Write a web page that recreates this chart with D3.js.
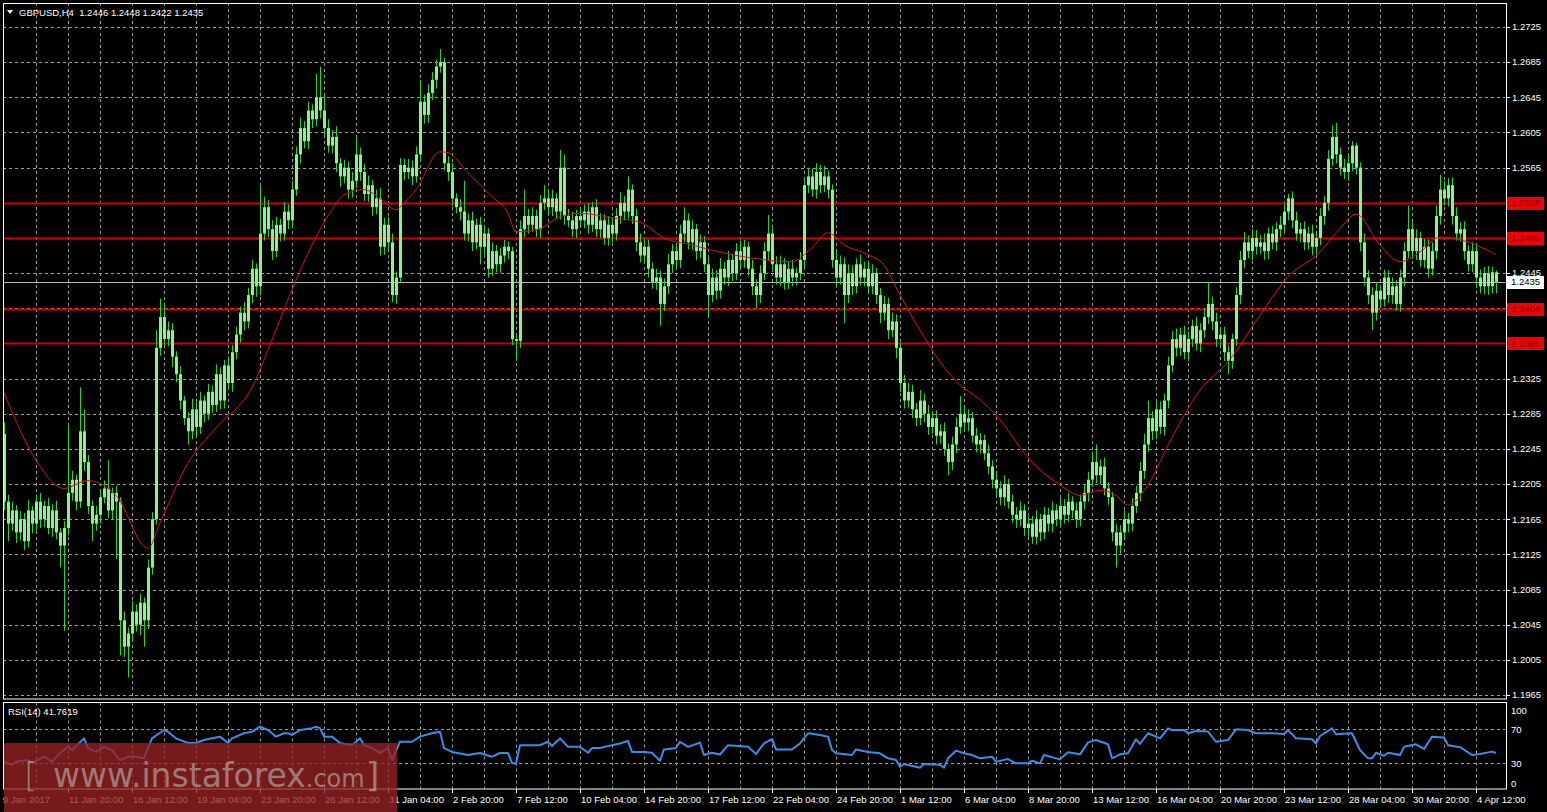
<!DOCTYPE html>
<html><head><meta charset="utf-8">
<script src="https://cdn.jsdelivr.net/npm/d3@7"></script>
<style>html,body{margin:0;padding:0;background:#000;overflow:hidden}</style>
</head><body><svg id="c" width="1547" height="812"></svg>
<script>
// ---------------- DATA ----------------
const titleText = "GBPUSD,H4  1.2446 1.2448 1.2422 1.2435";
const rsiTitle = "RSI(14) 41.7619";
const firstOpen = 1.2262;
// H4 closes, one per bar (open = previous close)
const closes = [
1.2185,1.2160,1.2175,1.2150,1.2165,1.2140,1.2175,1.2160,1.2185,1.2165,
1.2180,1.2155,1.2175,1.2150,1.2135,1.2155,1.2195,1.2210,1.2185,1.2265,
1.2230,1.2180,1.2160,1.2170,1.2190,1.2200,1.2175,1.2195,1.2185,1.2050,
1.2020,1.2035,1.2060,1.2045,1.2070,1.2050,1.2110,1.2165,1.2360,1.2395,
1.2370,1.2380,1.2350,1.2330,1.2300,1.2280,1.2265,1.2290,1.2270,1.2300,
1.2285,1.2310,1.2295,1.2330,1.2300,1.2340,1.2320,1.2355,1.2375,1.2400,
1.2390,1.2420,1.2450,1.2430,1.2490,1.2520,1.2495,1.2470,1.2500,1.2490,
1.2515,1.2505,1.2540,1.2580,1.2610,1.2595,1.2630,1.2620,1.2645,1.2630,
1.2610,1.2590,1.2600,1.2570,1.2555,1.2565,1.2540,1.2550,1.2580,1.2560,
1.2535,1.2545,1.2520,1.2530,1.2475,1.2500,1.2480,1.2420,1.2440,1.2568,
1.2560,1.2565,1.2555,1.2580,1.2640,1.2625,1.2650,1.2665,1.2680,1.2685,
1.2570,1.2560,1.2530,1.2520,1.2515,1.2490,1.2505,1.2480,1.2500,1.2475,
1.2490,1.2450,1.2470,1.2455,1.2465,1.2475,1.2470,1.2370,1.2368,1.2495,
1.2510,1.2500,1.2510,1.2495,1.2525,1.2530,1.2520,1.2530,1.2515,1.2565,
1.2510,1.2505,1.2495,1.2510,1.2505,1.2515,1.2500,1.2520,1.2495,1.2505,
1.2485,1.2500,1.2490,1.2510,1.2525,1.2515,1.2540,1.2510,1.2480,1.2465,
1.2475,1.2450,1.2435,1.2440,1.2410,1.2430,1.2455,1.2470,1.2460,1.2490,
1.2505,1.2480,1.2495,1.2470,1.2480,1.2455,1.2420,1.2440,1.2425,1.2450,
1.2440,1.2460,1.2445,1.2470,1.2460,1.2475,1.2450,1.2430,1.2420,1.2445,
1.2470,1.2490,1.2455,1.2440,1.2455,1.2435,1.2450,1.2440,1.2445,1.2460,
1.2545,1.2555,1.2540,1.2560,1.2545,1.2555,1.2540,1.2460,1.2440,1.2455,
1.2420,1.2445,1.2430,1.2455,1.2440,1.2450,1.2430,1.2445,1.2420,1.2400,
1.2410,1.2380,1.2390,1.2360,1.2320,1.2300,1.2310,1.2290,1.2280,1.2300,
1.2285,1.2270,1.2280,1.2260,1.2265,1.2245,1.2230,1.2250,1.2270,1.2285,
1.2275,1.2280,1.2260,1.2250,1.2255,1.2240,1.2225,1.2210,1.2200,1.2190,
1.2205,1.2185,1.2170,1.2165,1.2175,1.2155,1.2160,1.2145,1.2165,1.2150,
1.2170,1.2160,1.2175,1.2165,1.2180,1.2170,1.2185,1.2175,1.2165,1.2185,
1.2195,1.2210,1.2230,1.2215,1.2225,1.2200,1.2190,1.2150,1.2135,1.2150,
1.2165,1.2160,1.2180,1.2195,1.2220,1.2250,1.2280,1.2265,1.2290,1.2270,
1.2300,1.2340,1.2370,1.2360,1.2375,1.2355,1.2370,1.2385,1.2365,1.2380,
1.2395,1.2410,1.2390,1.2370,1.2375,1.2355,1.2345,1.2370,1.2420,1.2460,
1.2480,1.2470,1.2485,1.2475,1.2480,1.2470,1.2490,1.2480,1.2495,1.2500,
1.2515,1.2530,1.2505,1.2490,1.2495,1.2480,1.2490,1.2475,1.2485,1.2510,
1.2525,1.2575,1.2600,1.2580,1.2565,1.2560,1.2570,1.2590,1.2565,1.2480,
1.2440,1.2420,1.2400,1.2425,1.2415,1.2440,1.2420,1.2430,1.2410,1.2440,
1.2470,1.2495,1.2470,1.2485,1.2460,1.2475,1.2450,1.2470,1.2510,1.2540,
1.2530,1.2545,1.2510,1.2490,1.2495,1.2470,1.2455,1.2470,1.2440,1.2430,
1.2445,1.2430,1.2446,1.2435];
// upper wick above body top, in pips
const wickHi = [
13,8,10,6,9,7,12,5,8,10, 6,9,7,11,5,8,77,10,6,50, 25,8,6,10,7,9,32,6,8,5,
10,7,12,8,10,6,9,8,20,21, 15,10,8,6,9,5,7,12,8,10, 6,9,7,11,8,6,10,8,9,7,
12,8,10,6,55,12,8,10,9,7, 11,8,10,9,12,8,10,7,27,35, 20,10,8,12,6,9,7,10,20,8,
9,11,6,10,12,8,9,10,7,8, 7,10,8,9,25,8,10,9,8,15, 5,8,10,6,9,35,8,10,7,9,
8,6,10,7,9,8,6,5,4,10, 30,8,10,7,9,15,8,10,6,20, 15,8,10,7,9,8,10,6,9,8,
7,10,8,9,12,8,15,6,8,10, 9,8,7,10,8,9,12,8,7,10, 15,8,10,6,9,7,8,10,9,12,
8,10,7,9,12,8,6,10,8,9, 10,21,8,9,10,7,8,10,6,9, 8,10,9,10,8,12,7,6,9,10,
8,10,9,7,11,8,9,10,6,8, 9,7,10,8,6,9,10,8,7,12, 8,10,7,9,8,10,6,9,11,20,
8,10,7,9,8,6,10,7,9,8, 10,6,8,9,10,7,8,9,10,6, 9,8,10,7,9,8,10,6,9,8,
10,9,12,20,8,10,7,6,9,8, 10,7,9,8,10,12,20,8,10,9, 8,10,9,12,8,10,9,7,10,8,
9,25,8,10,7,9,8,6,9,10, 12,8,10,9,8,10,7,9,8,10, 9,5,8,10,7,9,8,10,6,9,
8,10,13,16,8,10,9,5,3,6, 10,8,9,10,7,9,8,10,7,9, 10,27,8,10,7,9,8,10,12,17,
10,8,9,10,8,9,7,10,8,9, 7,8,6,2];
// lower wick below body bottom, in pips
const wickLo = [
10,20,8,12,9,10,7,11,8,10, 9,7,10,8,25,97,8,9,10,7, 10,9,20,8,10,7,9,10,65,40,
12,35,10,8,12,30,10,8,6,9, 10,8,12,9,10,8,15,9,10,8, 10,7,9,8,10,9,7,10,8,9,
10,8,9,12,10,8,9,10,7,9, 8,10,9,7,10,8,9,10,8,9, 10,8,9,10,12,8,10,9,8,10,
8,9,10,8,10,9,8,8,10,6, 9,8,10,7,8,10,9,8,10,7, 8,10,9,7,10,8,9,10,8,20,
9,10,8,9,10,8,9,7,23,8, 9,10,8,9,10,8,9,10,8,9, 10,8,9,10,8,9,10,8,9,10,
8,9,10,8,9,10,8,9,10,8, 9,10,8,9,25,8,9,10,8,9, 10,8,9,10,8,9,25,8,10,9,
8,10,9,8,10,9,8,10,15,9, 8,10,9,8,10,9,8,10,9,8, 10,9,8,10,9,8,10,9,10,8,
32,9,10,8,9,10,8,9,10,12, 9,10,8,12,10,9,8,10,9,8, 10,9,8,10,9,8,15,9,10,8,
9,10,8,9,10,8,9,10,8,9, 10,8,9,10,8,9,10,8,9,10, 8,9,10,8,9,10,8,9,10,8,
9,10,8,9,10,8,9,10,25,9, 8,10,9,8,10,9,8,10,9,8, 10,9,8,10,9,8,10,9,8,10,
9,8,10,9,8,10,15,9,8,10, 9,8,10,9,8,10,9,8,10,9, 8,10,9,8,10,9,8,10,9,8,
10,9,8,10,9,8,10,9,8,10, 9,10,20,9,10,8,9,10,8,9, 10,8,9,10,8,9,10,8,9,10,
8,9,10,8,9,10,8,9,10,8, 9,10,8,13];
// moving average (bar index, value)
const maBar = [0,8,15,21,28,36,39,46,53,62,67,72,77,82,85,90,94,98,100,103,109,111,116,122,126,128,133,139,144,152,159,165,172,179,187,197,202,206,210,216,220,224,229,234,239,244,249,256,264,269,274,278,281,286,291,299,306,314,321,329,334,338,344,349,354,359,364,373];
const maVal = [1.2309,1.2232,1.2200,1.2209,1.2192,1.2132,1.2161,1.2229,1.2269,1.2315,1.2369,1.2426,1.2477,1.2517,1.2534,1.2540,1.2530,1.2517,1.2525,1.2540,1.2583,1.2582,1.2559,1.2532,1.2513,1.2492,1.2494,1.2509,1.2513,1.2508,1.2503,1.2485,1.2477,1.2469,1.2462,1.2458,1.2474,1.2491,1.2477,1.2466,1.2454,1.2420,1.2380,1.2344,1.2318,1.2301,1.2278,1.2235,1.2204,1.2192,1.2198,1.2192,1.2181,1.2204,1.2249,1.2312,1.2344,1.2397,1.2441,1.2469,1.2496,1.2512,1.2477,1.2458,1.2469,1.2486,1.2483,1.2466];
// RSI(14) (bar index, value)
const rsiPoints = [[0,31.5],[2,27.6],[3,31.5],[6,33.5],[7,30],[10,37.4],[12,31.5],[14,41.8],[16,49],[17,45],[20,59],[21,47.6],[23,43],[25,49],[27,45],[29,33.5],[31,37.4],[33,37.4],[35,35.6],[37,59],[40,68.8],[41,66.8],[43,59],[46,53.5],[48,53.5],[50,57],[52,59],[54,61],[56,53.5],[57,59],[60,65],[62,66.8],[64,72.7],[66,68.8],[68,61],[70,65],[71,65],[72,63],[74,68.8],[77,71],[78,72.7],[79,71],[80,61],[82,61],[84,53.5],[87,51],[89,59],[90,51],[92,47.6],[94,41.8],[96,47.6],[97,33.5],[99,55],[102,55],[104,61],[107,65],[109,66.8],[110,47.6],[112,43],[116,39.4],[119,41.8],[122,37.4],[124,41.8],[126,41.8],[127,30],[128,29],[129,51],[134,51],[136,55],[137,50],[139,59],[141,49],[144,49],[146,42],[147,47.6],[149,47.6],[152,51],[154,53],[156,56],[157,43],[160,43],[162,42],[164,32.7],[165,46],[168,47.6],[169,55],[171,49],[174,54],[175,39.4],[177,42],[179,40],[181,51],[186,49],[188,40.6],[190,53],[192,58],[193,46],[197,46],[199,53],[201,65],[204,63],[206,61],[207,45.3],[208,41.4],[212,39.4],[213,46],[216,43],[219,41.4],[221,35.5],[223,33.5],[224,25.6],[225,28.8],[229,24.5],[230,28.8],[234,27.8],[235,24.5],[236,35.5],[238,44.5],[240,41.4],[242,39.4],[244,35.5],[247,37.4],[248,31.5],[249,32.5],[251,34.7],[253,29.6],[256,29.6],[257,32.7],[259,29.6],[260,39.4],[264,34.3],[266,42.6],[269,40.2],[271,54.3],[273,57],[276,52],[277,35.5],[279,40.2],[281,41.4],[283,57.9],[284,52.4],[286,65],[289,59],[291,70.8],[292,68.8],[295,68.8],[296,65],[298,67.6],[301,67],[303,55],[306,57],[308,69.6],[311,68.8],[313,65],[317,65],[320,64],[321,68.8],[323,59],[327,58],[328,53],[329,61.8],[332,70.8],[333,63.8],[337,65],[339,45.3],[341,35.5],[342,35.5],[343,42],[345,38.6],[346,42],[349,39.4],[350,49],[353,52],[355,46.5],[357,61],[360,60],[361,51],[364,48.6],[367,39.4],[369,40.6],[372,43.4],[373,41.76]];
const priceTicks = [1.2725,1.2685,1.2645,1.2605,1.2565,1.2525,1.2485,1.2445,1.2405,1.2365,1.2325,1.2285,1.2245,1.2205,1.2165,1.2125,1.2085,1.2045,1.2005,1.1965];
const levels = [1.2525,1.2485,1.2404,1.2365];
const lastPrice = 1.2435;
const rsiTicks = [100,70,30,0];
const rsiLevels = [70,30];
const timeLabels = ["9 Jan 2017","11 Jan 20:00","16 Jan 12:00","19 Jan 04:00","23 Jan 20:00","26 Jan 12:00","31 Jan 04:00","2 Feb 20:00","7 Feb 12:00","10 Feb 04:00","14 Feb 20:00","17 Feb 12:00","22 Feb 04:00","24 Feb 20:00","1 Mar 12:00","6 Mar 04:00","8 Mar 20:00","13 Mar 12:00","16 Mar 04:00","20 Mar 20:00","23 Mar 12:00","28 Mar 04:00","30 Mar 20:00","4 Apr 12:00"];
const timeLabelBars = [0,16,32,48,64,80,96,112,128,144,160,176,192,208,224,240,256,272,288,304,320,336,352,368];
const watermark = ["[","www.instaforex",".com","]"];

// ---------------- LAYOUT ----------------
const W = 1547, H = 812;
const L = 3, R = 1506, T = 3, MB = 699.5, RT = 702.5, RB = 789;
const font = "'Liberation Sans', Arial, sans-serif";
const svg = d3.select("#c");
svg.append("rect").attr("width",W).attr("height",H).attr("fill","#000");

const x = d3.scaleLinear().domain([0, closes.length-1]).range([4, 1496]);
const y = d3.scaleLinear().domain([1.1965, 1.2725]).range([695, 27]);
const yr = d3.scaleLinear().domain([0, 100]).range([788.5, 703.5]);
const px = v => Math.round(v) + 0.5;

const defs = svg.append("defs");
defs.append("clipPath").attr("id","mainClip").append("rect").attr("x",L+0.5).attr("y",T+0.5).attr("width",R-L-1).attr("height",MB-T-1);
defs.append("clipPath").attr("id","rsiClip").append("rect").attr("x",L+0.5).attr("y",RT+0.5).attr("width",R-L-1).attr("height",RB-RT-1);

const gridColor = "#9a9a9a";
const main = svg.append("g").attr("clip-path","url(#mainClip)");
const rsiG = svg.append("g").attr("clip-path","url(#rsiClip)");

// vertical grid every 8 bars
const vGrid = d3.range(8, closes.length, 8);
[ [main, T, MB], [rsiG, RT, RB] ].forEach(([g, y0, y1]) => {
  g.selectAll(null).data(vGrid).enter().append("line")
    .attr("x1", d => px(x(d))).attr("x2", d => px(x(d)))
    .attr("y1", y0).attr("y2", y1)
    .attr("stroke", gridColor).attr("stroke-dasharray","3,3").attr("stroke-width",1);
});
// horizontal grid
main.selectAll(null).data(priceTicks).enter().append("line")
  .attr("x1", L).attr("x2", R).attr("y1", d => px(y(d))).attr("y2", d => px(y(d)))
  .attr("stroke", gridColor).attr("stroke-dasharray","3,3");
rsiG.selectAll(null).data(rsiLevels).enter().append("line")
  .attr("x1", L).attr("x2", R).attr("y1", d => px(yr(d))).attr("y2", d => px(yr(d)))
  .attr("stroke", gridColor).attr("stroke-dasharray","3,3");

// level lines
main.selectAll(null).data(levels).enter().append("line")
  .attr("x1", L).attr("x2", R).attr("y1", d => Math.round(y(d))+0.5).attr("y2", d => Math.round(y(d))+0.5)
  .attr("stroke", "#d00000").attr("stroke-width",2);
// last price line
main.append("line").attr("x1",L).attr("x2",R).attr("y1",px(y(lastPrice))).attr("y2",px(y(lastPrice)))
  .attr("stroke","#b8b8b8");

// candles
const bars = closes.map((c,i) => {
  const o = i === 0 ? firstOpen : closes[i-1];
  const top = Math.max(o,c), bot = Math.min(o,c);
  return {i, o, c, top, bot, h: top + wickHi[i]/10000, l: bot - wickLo[i]/10000};
});
const cg = main.append("g");
cg.selectAll(null).data(bars).enter().append("line")
  .attr("x1", d => px(x(d.i))).attr("x2", d => px(x(d.i)))
  .attr("y1", d => y(d.h)).attr("y2", d => y(d.l))
  .attr("stroke", "#2fcf2f").attr("stroke-width", 1);
cg.selectAll(null).data(bars).enter().append("rect")
  .attr("x", d => Math.round(x(d.i)) - 1).attr("width", 3)
  .attr("y", d => y(d.top)).attr("height", d => Math.max(1, y(d.bot) - y(d.top)))
  .attr("fill", "#86f586");

// moving average
const maLine = d3.line().x((d,k) => x(maBar[k])).y(d => y(d)).curve(d3.curveMonotoneX);
main.append("path").attr("d", maLine(maVal)).attr("fill","none").attr("stroke","#d01818").attr("stroke-width",1);

// RSI line
const rsiLine = d3.line().x(d => x(d[0])).y(d => yr(d[1]));
rsiG.append("path").attr("d", rsiLine(rsiPoints)).attr("fill","none").attr("stroke","#3a8ee6").attr("stroke-width",2).attr("stroke-linejoin","round");

// frames
const fr = svg.append("g").attr("stroke","#fff").attr("fill","none").attr("stroke-width",1);
fr.append("rect").attr("x",L+0.5).attr("y",T+0.5).attr("width",R-L).attr("height",MB-T-1);
fr.append("rect").attr("x",L+0.5).attr("y",RT).attr("width",R-L).attr("height",RB-RT);

// price axis
const ax = svg.append("g").attr("font-family",font).attr("font-size","9.5px");
ax.selectAll(null).data(priceTicks).enter().append("line")
  .attr("x1",R).attr("x2",R+4).attr("y1",d=>px(y(d))).attr("y2",d=>px(y(d))).attr("stroke","#fff");
ax.selectAll(null).data(priceTicks).enter().append("text")
  .attr("x",1512).attr("y",d=>y(d)).attr("dy","0.35em").attr("fill","#fff").text(d=>d.toFixed(4));
// level labels
levels.forEach(v => {
  ax.append("rect").attr("x",1507).attr("y",Math.round(y(v))-6).attr("width",37).attr("height",13).attr("fill","#ee0000");
  ax.append("text").attr("x",1511).attr("y",y(v)).attr("dy","0.35em").attr("fill","#8a0000").text(v.toFixed(4));
});
ax.append("rect").attr("x",1507).attr("y",Math.round(y(lastPrice))-6).attr("width",37).attr("height",13).attr("fill","#fff");
ax.append("text").attr("x",1511).attr("y",y(lastPrice)).attr("dy","0.35em").attr("fill","#000").text(lastPrice.toFixed(4));

// RSI axis
ax.selectAll(null).data(rsiTicks).enter().append("text")
  .attr("x",1511).attr("y",d => d===100 ? yr(d)+7 : d===0 ? yr(d)-5 : yr(d)+1)
  .attr("dy","0.35em").attr("fill","#fff").text(d=>d);

// time axis
ax.selectAll(null).data(timeLabelBars.slice(1)).enter().append("line")
  .attr("x1",d=>px(x(d))).attr("x2",d=>px(x(d))).attr("y1",RB).attr("y2",RB+4).attr("stroke","#fff");
ax.selectAll(null).data(timeLabels).enter().append("text")
  .attr("x",(d,k)=> k===0 ? 3 : Math.round(x(timeLabelBars[k]))+1).attr("y",803)
  .attr("fill","#fff").text(d=>d);

// titles
svg.append("path").attr("d","M7,10 L13,10 L10,14 Z").attr("fill","#fff");
svg.append("text").attr("x",19).attr("y",16).attr("font-family",font).attr("font-size","9.5px").attr("fill","#fff").attr("xml:space","preserve").style("white-space","pre").text(titleText);
svg.append("text").attr("x",8).attr("y",715).attr("font-family",font).attr("font-size","9.5px").attr("fill","#fff").text(rsiTitle);

// watermark
const wm = svg.append("g");
wm.append("rect").attr("x",4).attr("y",743).attr("width",393).attr("height",69).attr("fill","rgb(150,35,35)").attr("fill-opacity",0.78);
const wt = wm.append("text").attr("y",787).attr("font-family","'DejaVu Sans', Verdana, sans-serif").attr("fill","#c8c8c8").attr("fill-opacity",0.55);
wt.append("tspan").attr("x",24).attr("font-size","34px").attr("font-weight","200").text(watermark[0]);
wt.append("tspan").attr("x",53).attr("font-size","33px").text(watermark[1]);
wt.append("tspan").attr("font-size","24px").text(watermark[2]);
wt.append("tspan").attr("x",366).attr("font-size","34px").text(watermark[3]);
</script>
</body></html>
